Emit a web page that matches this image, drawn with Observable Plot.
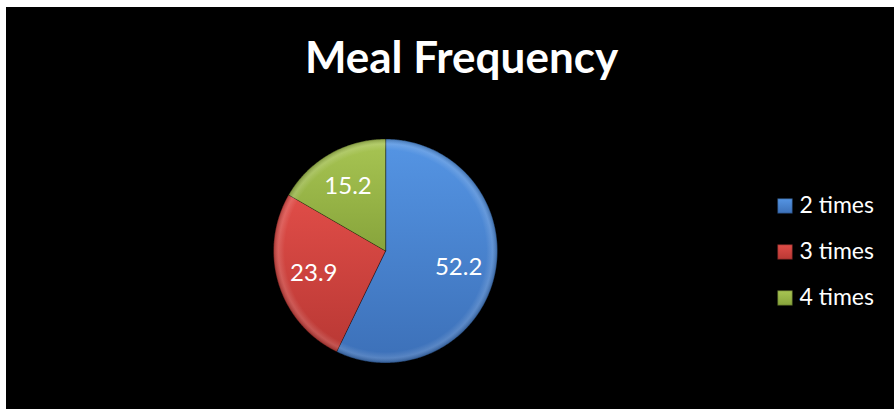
<!DOCTYPE html>
<html>
<head>
<meta charset="utf-8">
<script src="https://cdn.jsdelivr.net/npm/d3@7"></script>
<script src="https://cdn.jsdelivr.net/npm/@observablehq/plot@0.6"></script>
<style>
  html, body { margin: 0; padding: 0; background: #ffffff; }
  #frame { position: absolute; left: 6px; top: 7px; width: 888px; height: 402px; overflow: hidden; background: #000; }
  #chart { position: absolute; left: -6px; top: -7px; }
  #legend { position: absolute; left: 758px; top: 173px; }
  text { font-family: Lato, "Open Sans", sans-serif; }
</style>
</head>
<body>
<div id="frame">
  <div id="chart"></div>
  <div id="legend"></div>
</div>
<script>
const title = "Meal Frequency";
const categories = ["2 times", "3 times", "4 times"];
const values = [52.2, 23.9, 15.2];
const valueLabels = ["52.2", "23.9", "15.2"];
const gradientTop = ["#5595e4", "#e04d48", "#a8c553"];
const gradientBottom = ["#3c70b8", "#b93834", "#87a43b"];
const gradientIds = ["g2", "g3", "g4"];

const arcs = d3.pie().sort(null)(values);

const slicePoints = arcs.flatMap((a, i) => {
  const pts = [{key: categories[i], x: 0, y: 0}];
  const n = Math.max(2, Math.ceil((a.endAngle - a.startAngle) / 0.01));
  for (let k = 0; k <= n; ++k) {
    const t = a.startAngle + (a.endAngle - a.startAngle) * k / n;
    pts.push({key: categories[i], x: Math.sin(t), y: Math.cos(t)});
  }
  return pts;
});

const labelData = arcs.map((a, i) => {
  const m = (a.startAngle + a.endAngle) / 2;
  return {text: valueLabels[i], x: 0.67 * Math.sin(m), y: 0.67 * Math.cos(m)};
});

const colorScale = {domain: categories, range: gradientIds.map(id => `url(#${id})`)};

const chart = Plot.plot({
  width: 894,
  height: 409,
  margin: 0,
  style: {background: "transparent", color: "white"},
  x: {domain: [-1, 1], range: [273, 497], axis: null},
  y: {domain: [-1, 1], range: [362.5, 138.5], axis: null},
  color: colorScale,
  marks: [
    Plot.line(slicePoints, {x: "x", y: "y", z: "key", fill: "key", stroke: "rgba(0,0,0,0.35)", strokeWidth: 1, curve: "linear-closed"}),
    Plot.line(slicePoints, {x: "x", y: "y", z: "key", fill: "url(#bevel)", stroke: "none", curve: "linear-closed"}),
    Plot.text(labelData, {x: "x", y: "y", text: "text", fill: "white", fontSize: 24, fontFamily: "Lato"}),
    Plot.text([title], {frameAnchor: "top", dx: 14, dy: 58, lineAnchor: "middle", fill: "white", fontSize: 44, fontWeight: "bold", fontFamily: "Lato"})
  ]
});

const cx = chart.scale("x").apply(0);
const cy = chart.scale("y").apply(0);
const rr = chart.scale("x").apply(1) - cx;
let defs = "<defs>";
gradientIds.forEach((id, i) => {
  defs += `<linearGradient id="${id}" x1="0" y1="0" x2="0" y2="1"><stop offset="0" stop-color="${gradientTop[i]}"/><stop offset="1" stop-color="${gradientBottom[i]}"/></linearGradient>`;
});
defs += `<radialGradient id="bevel" gradientUnits="userSpaceOnUse" cx="${cx}" cy="${cy}" r="${rr}">
  <stop offset="0" stop-color="#fff" stop-opacity="0"/>
  <stop offset="0.9" stop-color="#fff" stop-opacity="0"/>
  <stop offset="0.955" stop-color="#fff" stop-opacity="0.14"/>
  <stop offset="1" stop-color="#000" stop-opacity="0.22"/>
</radialGradient>`;
defs += "</defs>";
chart.insertAdjacentHTML("afterbegin", defs);
document.getElementById("chart").appendChild(chart);

const legend = Plot.plot({
  width: 130,
  height: 143,
  margin: 0,
  style: {background: "transparent", color: "white", overflow: "visible"},
  x: {axis: null},
  y: {domain: categories, type: "band", range: [0, 143], axis: null},
  color: colorScale,
  marks: [
    Plot.dot(categories, {y: d => d, frameAnchor: "left", dx: 20.5, symbol: "square", r: 8.5, fill: d => d, stroke: "rgba(0,0,0,0.3)"}),
    Plot.text(categories, {y: d => d, frameAnchor: "left", dx: 35, textAnchor: "start", text: d => d, fill: "white", fontSize: 23, fontFamily: "Lato"})
  ]
});
document.getElementById("legend").appendChild(legend);
</script>
</body>
</html>
